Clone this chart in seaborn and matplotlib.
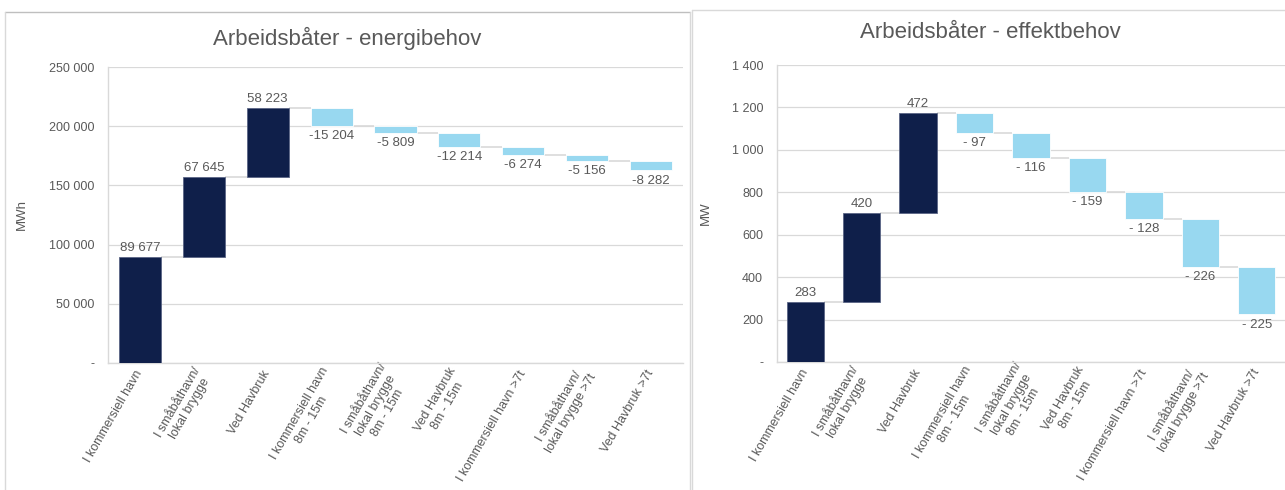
import numpy as np
import matplotlib
matplotlib.use("Agg")
import matplotlib.pyplot as plt
import seaborn as sns
from matplotlib.lines import Line2D
from matplotlib.ticker import FuncFormatter, MultipleLocator

# ---------------- data ----------------
categories = [
    "I kommersiell havn",
    "I småbåthavn/\nlokal brygge",
    "Ved Havbruk",
    "I kommersiell havn\n8m - 15m",
    "I småbåthavn/\nlokal brygge\n8m - 15m",
    "Ved Havbruk\n8m - 15m",
    "I kommersiell havn >7t",
    "I småbåthavn/\nlokal brygge >7t",
    "Ved Havbruk >7t",
]
energy_mwh = [89677, 67645, 58223, -15204, -5809, -12214, -6274, -5156, -8282]
power_mw = [283, 420, 472, -97, -116, -159, -128, -226, -225]

title_energy = "Arbeidsbåter - energibehov"
title_power = "Arbeidsbåter - effektbehov"
ylabel_energy = "MWh"
ylabel_power = "MW"

# ---------------- style ----------------
sns.set_theme(style="white")
plt.rcParams["font.family"] = ["Liberation Sans", "DejaVu Sans"]

DARK = "#0F1F4A"
LIGHT = "#98D8F0"
TXT = "#595959"
GRID = "#D9D9D9"
W, H = 1285, 490

fig = plt.figure(figsize=(W / 100, H / 100), dpi=100)
fig.patch.set_facecolor("white")


def fx(px):
    return px / W


def fy(py):
    return 1 - py / H


# panel borders
fig.add_artist(Line2D([fx(5), fx(690)], [fy(12), fy(12)], color="#BFBFBF", lw=1.0))
fig.add_artist(Line2D([fx(5), fx(5)], [fy(12), fy(490)], color=GRID, lw=1.0))
fig.add_artist(Line2D([fx(690), fx(690)], [fy(12), fy(490)], color=GRID, lw=1.0))
fig.add_artist(Line2D([fx(692), fx(1285)], [fy(10), fy(10)], color=GRID, lw=1.0))
fig.add_artist(Line2D([fx(692), fx(692)], [fy(10), fy(490)], color=GRID, lw=1.0))


def thousands(v, pos=None):
    if abs(v) < 1e-9:
        return "-"
    return f"{int(round(v)):,}".replace(",", " ")


def waterfall(ax, values, step, ymax, label_fmt):
    vals = np.array(values, dtype=float)
    ends = np.cumsum(vals)
    starts = ends - vals
    base = np.where(vals >= 0, starts, ends)
    height = np.abs(vals)

    sns.barplot(x=categories, y=height, order=categories, bottom=base,
                color=DARK, width=0.66, errorbar=None, ax=ax,
                edgecolor="white", linewidth=0.6, zorder=3)
    for p, v in zip(ax.patches, vals):
        p.set_facecolor(DARK if v >= 0 else LIGHT)
        if v >= 0:
            p.set_edgecolor("#5A6585")

    half = 0.33
    for i in range(len(vals) - 1):
        ax.plot([i + half, i + 1 - half], [ends[i], ends[i]],
                color=GRID, lw=1.2, zorder=2, solid_capstyle="butt")

    for i, v in enumerate(vals):
        if v >= 0:
            ax.annotate(label_fmt(v), (i, ends[i]), xytext=(0, 2),
                        textcoords="offset points", ha="center", va="bottom",
                        fontsize=9.5, color=TXT)
        else:
            ax.annotate(label_fmt(v), (i, ends[i]), xytext=(0, -3),
                        textcoords="offset points", ha="center", va="top",
                        fontsize=9.5, color=TXT)

    ax.set_xlim(-0.5, len(vals) - 0.5)
    ax.set_ylim(0, ymax)
    ax.yaxis.set_major_locator(MultipleLocator(step))
    ax.yaxis.set_major_formatter(FuncFormatter(thousands))
    ax.grid(axis="y", color=GRID, lw=0.9, zorder=0)
    ax.set_axisbelow(True)
    for s in ["top", "right"]:
        ax.spines[s].set_visible(False)
    for s in ["left", "bottom"]:
        ax.spines[s].set_color(GRID)
        ax.spines[s].set_linewidth(1.0)
    ax.tick_params(axis="both", length=0, colors=TXT, labelsize=9)
    ax.tick_params(axis="y", pad=10)
    ax.set_xticks(range(len(categories)))
    ax.set_xticklabels(categories, rotation=60, ha="right", va="center",
                       rotation_mode="anchor", multialignment="center",
                       fontsize=9, color=TXT)
    ax.tick_params(axis="x", pad=6)
    ax.set_xlabel("")


def fmt_energy(v):
    return f"{int(v):,}".replace(",", " ")


def fmt_power(v):
    v = int(v)
    return f"- {abs(v)}" if v < 0 else f"{v}"


# left axes
ax1 = fig.add_axes([fx(108), fy(363), fx(683) - fx(108), fy(67) - fy(363)])
waterfall(ax1, energy_mwh, 50000, 250000, fmt_energy)
ax1.set_ylabel(ylabel_energy, color=TXT, fontsize=9.5)
ax1.yaxis.set_label_coords(-0.14, 0.5)

# right axes
ax2 = fig.add_axes([fx(777), fy(362), fx(1285) - fx(777), fy(65) - fy(362)])
waterfall(ax2, power_mw, 200, 1400, fmt_power)
ax2.set_ylabel(ylabel_power, color=TXT, fontsize=9.5)
ax2.yaxis.set_label_coords(-0.128, 0.5)

title_font = ["Liberation Sans Narrow", "Liberation Sans", "DejaVu Sans"]
fig.text(fx(347), fy(38), title_energy, ha="center", va="center",
         fontsize=16, color=TXT, family=title_font)
fig.text(fx(990), fy(33), title_power, ha="center", va="center",
         fontsize=16, color=TXT, family=title_font)

fig.savefig("out.png", dpi=100, facecolor="white")
